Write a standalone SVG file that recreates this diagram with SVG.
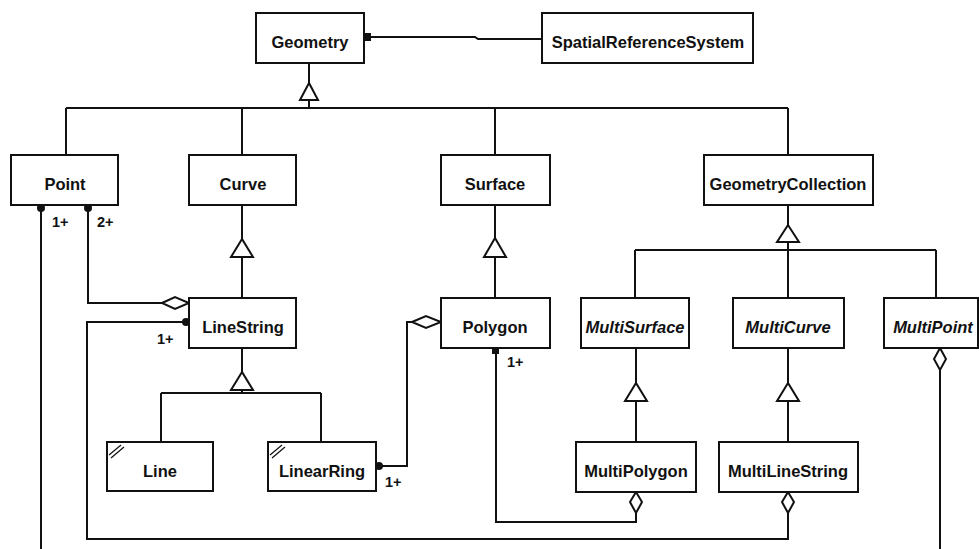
<svg xmlns="http://www.w3.org/2000/svg" width="979" height="549" viewBox="0 0 979 549">
<style>
.box{fill:#fff;stroke:#111;stroke-width:2}
.t{font-family:"Liberation Sans",Arial,sans-serif;font-weight:bold;font-size:16.5px;fill:#111;text-anchor:middle}
.i{font-style:italic}
.c{fill:none;stroke:#111;stroke-width:2}
.tri{fill:#fff;stroke:#111;stroke-width:2}
.dia{fill:#fff;stroke:#111;stroke-width:2}
.dot{fill:#111}
.m{font-family:"Liberation Sans",Arial,sans-serif;font-weight:bold;font-size:14.5px;fill:#111}
.mark{fill:none;stroke:#111;stroke-width:1.2}
</style>
<rect width="979" height="549" fill="#fff"/>
<g id="connectors">
<!-- Geometry - SRS -->
<path class="c" d="M364,37 H475 L478,39 H542"/>
<rect class="dot" x="364" y="33" width="7" height="8"/>
<!-- Geometry generalization -->
<path class="c" d="M309,63 V83 M309,100 V108 M66,108 H788 M66,108 V155 M242,108 V155 M495,108 V155 M788,108 V155"/>
<polygon class="tri" points="309,83 300,100 318,100"/>
<!-- Curve -> LineString -->
<path class="c" d="M242,205 V239 M242,257 V298"/>
<polygon class="tri" points="242,239 231,257 253,257"/>
<!-- Surface -> Polygon -->
<path class="c" d="M495,205 V238 M495,257 V298"/>
<polygon class="tri" points="495,238 484,257 506,257"/>
<!-- GeometryCollection -->
<path class="c" d="M788,205 V225 M788,242 V250 M635,250 H936 M635,250 V298 M788,250 V298 M936,250 V298"/>
<polygon class="tri" points="788,225 777,242 799,242"/>
<!-- MultiSurface -> MultiPolygon -->
<path class="c" d="M636,348 V383 M636,401 V442"/>
<polygon class="tri" points="636,383 625,401 647,401"/>
<!-- MultiCurve -> MultiLineString -->
<path class="c" d="M788,348 V383 M788,401 V442"/>
<polygon class="tri" points="788,383 777,401 799,401"/>
<!-- LineString -> Line, LinearRing -->
<path class="c" d="M242,348 V372 M242,390 V393 M161,393 H321 M161,393 V442 M321,393 V442"/>
<polygon class="tri" points="242,372 231,390 253,390"/>
<!-- Point 2+ to LineString -->
<path class="c" d="M88,205 V303 H162"/>
<circle class="dot" cx="88" cy="208" r="4"/>
<polygon class="dia" points="162,303 175,297 189,303 175,309"/>
<!-- Point 1+ to MultiPoint -->
<path class="c" d="M41,205 V549"/>
<circle class="dot" cx="41" cy="208" r="4"/>
<!-- LineString 1+ to MultiLineString -->
<path class="c" d="M189,322 H87 V539 H788 V513"/>
<circle class="dot" cx="186" cy="322" r="4"/>
<polygon class="dia" points="788,492 794,502 788,513 782,502"/>
<!-- LinearRing to Polygon -->
<path class="c" d="M412,322 H407 V466 H376"/>
<polygon class="dia" points="412,322 426,316 441,322 426,328"/>
<circle class="dot" cx="379" cy="466" r="4"/>
<!-- Polygon 1+ to MultiPolygon -->
<path class="c" d="M496,348 V522 H636 V513"/>
<rect class="dot" x="492" y="348" width="7" height="6"/>
<polygon class="dia" points="636,492 642,502 636,513 630,502"/>
<!-- MultiPoint aggregation -->
<path class="c" d="M940,370 V549"/>
<polygon class="dia" points="940,348 946,359 940,370 934,359"/>
<!-- multiplicities -->
<text class="m" x="52" y="227">1+</text>
<text class="m" x="97" y="227">2+</text>
<text class="m" x="157" y="344">1+</text>
<text class="m" x="385" y="487">1+</text>
<text class="m" x="507" y="367">1+</text>
</g>
<g id="Geometry"><rect class="box" x="256" y="13" width="108" height="50"/><text class="t" x="310" y="48">Geometry</text></g>
<g id="SpatialReferenceSystem"><rect class="box" x="542" y="13" width="211" height="50"/><text class="t" x="648" y="48">SpatialReferenceSystem</text></g>
<g id="Point"><rect class="box" x="11" y="155" width="107" height="50"/><text class="t" x="65" y="190">Point</text></g>
<g id="Curve"><rect class="box" x="189" y="155" width="107" height="50"/><text class="t" x="243" y="190">Curve</text></g>
<g id="Surface"><rect class="box" x="441" y="155" width="109" height="50"/><text class="t" x="495" y="190">Surface</text></g>
<g id="GeometryCollection"><rect class="box" x="704" y="155" width="169" height="50"/><text class="t" x="788" y="190">GeometryCollection</text></g>
<g id="LineString"><rect class="box" x="189" y="298" width="107" height="50"/><text class="t" x="243" y="333">LineString</text></g>
<g id="Polygon"><rect class="box" x="441" y="298" width="109" height="50"/><text class="t" x="495" y="333">Polygon</text></g>
<g id="MultiSurface"><rect class="box" x="581" y="298" width="108" height="50"/><text class="t i" x="635" y="333">MultiSurface</text></g>
<g id="MultiCurve"><rect class="box" x="733" y="298" width="111" height="50"/><text class="t i" x="788" y="333">MultiCurve</text></g>
<g id="MultiPoint"><rect class="box" x="884" y="298" width="94" height="50"/><text class="t i" x="933" y="333">MultiPoint</text></g>
<g id="Line"><rect class="box" x="107" y="442" width="106" height="49"/><path class="mark" d="M109,455 L121,445 M111,458 L124,447"/><text class="t" x="160" y="477">Line</text></g>
<g id="LinearRing"><rect class="box" x="268" y="442" width="108" height="49"/><path class="mark" d="M270,455 L282,445 M272,458 L285,447"/><text class="t" x="322" y="477">LinearRing</text></g>
<g id="MultiPolygon"><rect class="box" x="576" y="442" width="120" height="50"/><text class="t" x="636" y="477">MultiPolygon</text></g>
<g id="MultiLineString"><rect class="box" x="719" y="442" width="139" height="50"/><text class="t" x="788" y="477">MultiLineString</text></g>
</svg>
